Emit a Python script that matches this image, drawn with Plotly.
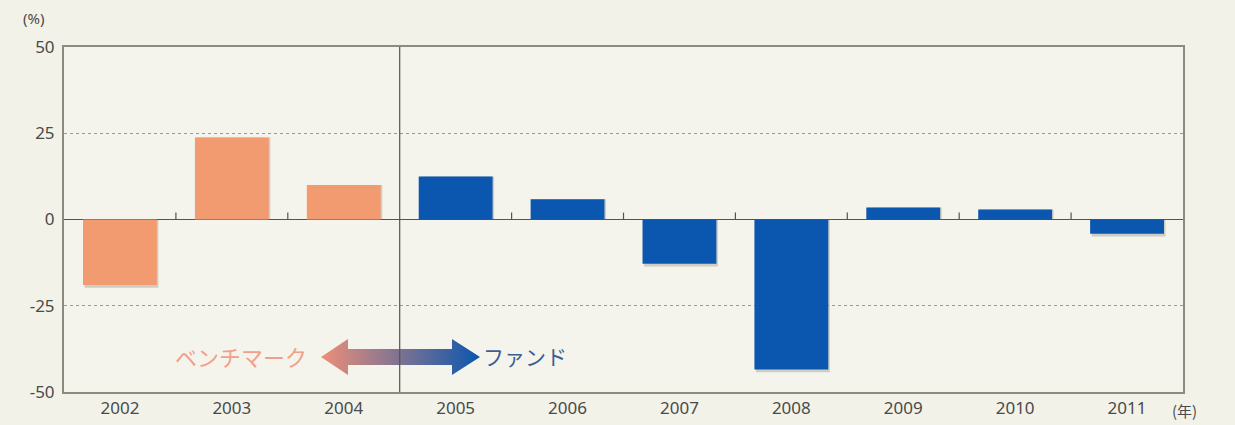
import plotly.graph_objects as go

# ---- data ----
bench_years = ["2002", "2003", "2004"]
bench_values = [-19.0, 23.8, 10.0]
fund_years = ["2005", "2006", "2007", "2008", "2009", "2010", "2011"]
fund_values = [12.5, 5.9, -12.8, -43.5, 3.5, 2.9, -4.1]
y_ticks = [50, 25, 0, -25, -50]
bench_label = "ベンチマーク"
fund_label = "ファンド"
y_unit = "(%)"
x_unit = "(年)"

categories = bench_years + fund_years

# ---- style ----
SALMON = "#f29a70"
BLUE = "#0b56ae"
BG = "#f3f2e8"
PLOT_BG = "#f5f4ec"
AXIS = "#8c8b82"
TEXT = "#4a4a4a"
FONT = "Noto Sans, Noto Sans CJK JP, sans-serif"
JFONT = "Noto Sans CJK JP, sans-serif"

W, H = 1235, 425
L, R, T, B = 64, 52, 47, 33
PW, PH = W - L - R, H - T - B
BAR_W = 0.66


def px_x(p):
    return (p - L) / PW


def px_y(p):
    return (H - B - p) / PH


fig = go.Figure()

# soft drop shadows behind the bars
for yrs, vals in ((bench_years, bench_values), (fund_years, fund_values)):
    fig.add_trace(go.Bar(x=yrs, y=[v - (0.8 if v < 0 else 0) for v in vals],
                         marker=dict(color="rgba(90,90,80,0.25)", line=dict(width=0)),
                         width=BAR_W, offset=-BAR_W / 2 + 0.014,
                         showlegend=False, hoverinfo="skip"))

fig.add_trace(go.Bar(x=bench_years, y=bench_values, marker=dict(color=SALMON, line=dict(width=0)),
                     width=BAR_W, showlegend=False, hoverinfo="skip"))
fig.add_trace(go.Bar(x=fund_years, y=fund_values, marker=dict(color=BLUE, line=dict(width=0)),
                     width=BAR_W, showlegend=False, hoverinfo="skip"))

# gradient double arrow on an overlay axis (paper-like units)
ax_pts = [(321, 357), (348, 339), (348, 349), (452, 349), (452, 339), (480, 357),
          (452, 375), (452, 365), (348, 365), (348, 375), (321, 357)]
fig.add_trace(go.Scatter(
    x=[px_x(p[0]) for p in ax_pts], y=[px_y(p[1]) for p in ax_pts],
    xaxis="x2", yaxis="y2", mode="lines", line=dict(width=0),
    fill="toself",
    fillgradient=dict(type="horizontal", colorscale=[[0, "#ee8f78"], [1, BLUE]]),
    showlegend=False, hoverinfo="skip"))

# small ticks on zero line at category boundaries
split = len(bench_years) - 0.5
for i in range(len(categories) - 1):
    b = i + 0.5
    if abs(b - split) < 1e-9:
        continue
    fig.add_shape(type="line", xref="x", yref="y", x0=b, x1=b, y0=0, y1=2.0,
                  line=dict(color="#555550", width=1.2))

# vertical divider between benchmark and fund periods
fig.add_shape(type="line", xref="x", yref="paper", x0=split, x1=split, y0=0, y1=1,
              line=dict(color="#55554f", width=1.2))

fig.add_annotation(text=bench_label, xref="paper", yref="paper", x=px_x(309), y=px_y(356),
                   xanchor="right", yanchor="middle", showarrow=False,
                   font=dict(family=JFONT, size=22, color="#f0a08a"))
fig.add_annotation(text=fund_label, xref="paper", yref="paper", x=px_x(481), y=px_y(356),
                   xanchor="left", yanchor="middle", showarrow=False,
                   font=dict(family=JFONT, size=21, color="#3a5f98"))
fig.add_annotation(text=y_unit, xref="paper", yref="paper", x=px_x(33), y=px_y(18),
                   xanchor="center", yanchor="middle", showarrow=False,
                   font=dict(family=FONT, size=15, color=TEXT))
fig.add_annotation(text=x_unit, xref="paper", yref="paper", x=px_x(1184), y=px_y(410),
                   xanchor="center", yanchor="middle", showarrow=False,
                   font=dict(family=JFONT, size=15, color=TEXT))

fig.update_layout(
    width=W, height=H,
    margin=dict(l=L, r=R, t=T, b=B, autoexpand=False),
    paper_bgcolor=BG, plot_bgcolor=PLOT_BG,
    barmode="overlay",
    font=dict(family=FONT, size=17, color=TEXT),
    xaxis=dict(type="category", categoryorder="array", categoryarray=categories,
               range=[-0.5, len(categories) - 0.5], automargin=False,
               showline=True, linecolor=AXIS, linewidth=2, mirror=True,
               showgrid=False, ticks="", zeroline=False,
               tickfont=dict(family=FONT, size=17, color=TEXT)),
    yaxis=dict(range=[-50, 50], tickvals=y_ticks, ticktext=[str(v) for v in y_ticks],
               automargin=False,
               showline=True, linecolor=AXIS, linewidth=2, mirror=True,
               showgrid=True, gridcolor="#9a9990", griddash="dot", gridwidth=1,
               zeroline=True, zerolinecolor="#55554f", zerolinewidth=1.2,
               ticks="", ticklabelstandoff=4,
               tickfont=dict(family=FONT, size=17, color=TEXT)),
    xaxis2=dict(overlaying="x", range=[0, 1], visible=False),
    yaxis2=dict(overlaying="y", range=[0, 1], visible=False),
)

fig.write_html("out.html", config={"displayModeBar": False},
               post_script="document.body.style.margin='0px';")
